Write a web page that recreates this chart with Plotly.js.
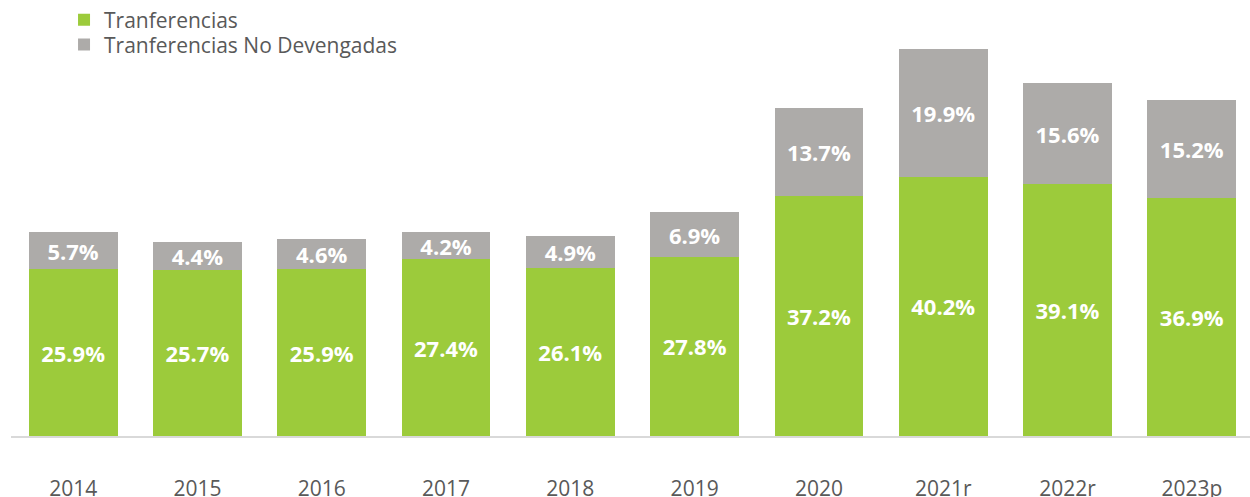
<!DOCTYPE html>
<html>
<head>
<meta charset="utf-8">
<script src="https://cdn.plot.ly/plotly-3.0.1.min.js"></script>
<style>
html,body{margin:0;padding:0;background:#fff;}
#chart{width:1250px;height:497px;}
</style>
</head>
<body>
<div id="chart"></div>
<script>
const categories = ["2014","2015","2016","2017","2018","2019","2020","2021r","2022r","2023p"];
const transferencias = [25.9, 25.7, 25.9, 27.4, 26.1, 27.8, 37.2, 40.2, 39.1, 36.9];
const noDevengadas = [5.7, 4.4, 4.6, 4.2, 4.9, 6.9, 13.7, 19.9, 15.6, 15.2];
const seriesNames = ["Tranferencias", "Tranferencias No Devengadas"];

const FONT = "'Open Sans', 'Noto Sans', sans-serif";
const fmt = v => v.toFixed(1) + "%";

const traces = [
  {
    type: "bar", name: seriesNames[0], x: categories, y: transferencias,
    legend: "legend",
    marker: {color: "#9ccb3b", line: {width: 0}},
    text: transferencias.map(fmt), textposition: "inside", insidetextanchor: "middle",
    textangle: 0, constraintext: "none",
    textfont: {family: FONT, size: 22, color: "#ffffff", weight: 700},
    hoverinfo: "x+y"
  },
  {
    type: "bar", name: seriesNames[1], x: categories, y: noDevengadas,
    legend: "legend2",
    marker: {color: "#adaba9", line: {width: 0}},
    text: noDevengadas.map(fmt), textposition: "inside", insidetextanchor: "middle",
    textangle: 0, constraintext: "none",
    textfont: {family: FONT, size: 22, color: "#ffffff", weight: 700},
    hoverinfo: "x+y"
  }
];

const legendBase = {
  orientation: "v", traceorder: "normal",
  xanchor: "left", yanchor: "middle",
  font: {family: FONT, size: 21, color: "#595959"},
  itemwidth: 30, bgcolor: "rgba(0,0,0,0)", borderwidth: 0
};

const layout = {
  width: 1250, height: 497,
  margin: {l: 11, r: 0, t: 0, b: 61, pad: 0, autoexpand: false},
  paper_bgcolor: "#ffffff", plot_bgcolor: "#ffffff",
  barmode: "stack", bargap: 0.286,
  font: {family: FONT, color: "#595959"},
  showlegend: true,
  legend: Object.assign({}, legendBase, {x: 0.0428, y: 0.954}),
  legend2: Object.assign({}, legendBase, {x: 0.0428, y: 0.897}),
  xaxis: {
    type: "category", range: [-0.5, 9.468],
    showline: true, linecolor: "#d9d9d9", linewidth: 2,
    showgrid: false, zeroline: false, ticks: "",
    ticklabelstandoff: 33,
    tickfont: {family: FONT, size: 21, color: "#595959"}
  },
  yaxis: {
    range: [0, 67.64], showgrid: false, zeroline: false,
    showline: false, showticklabels: false, ticks: ""
  }
};

Plotly.newPlot("chart", traces, layout, {displayModeBar: false, staticPlot: true});
</script>
</body>
</html>
